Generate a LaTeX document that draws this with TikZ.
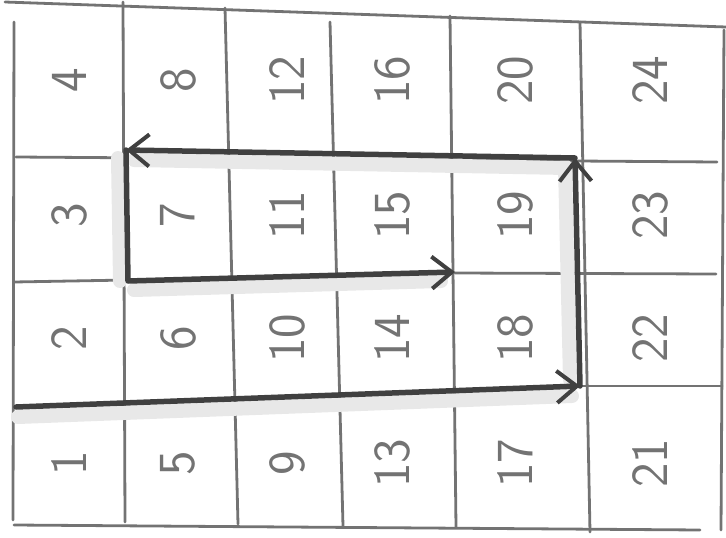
\documentclass[tikz,border=0pt]{standalone}
\usepackage{tikz}
\usetikzlibrary{positioning, arrows.meta, calc}

\begin{document}
\begin{tikzpicture}[x=1pt, y=-1pt,
  gridline/.style={draw=black!55, line width=2.8pt, line cap=round},
  route/.style={draw=black!75, line width=5.5pt, line cap=round, line join=round},
  smudge/.style={draw=black!9, line width=14pt, line cap=round},
  tip/.style={-{Straight Barb[length=20pt, width=32pt, line width=4pt]}},
  cellnum/.style={text=black!55, rotate=90, font=\sffamily\fontsize{52}{52}\selectfont}]
\useasboundingbox (0,0) rectangle (726,538);

% grid
\draw[gridline] (5,2) -- (726,27);
\draw[gridline] (16,157) -- (717,162);
\draw[gridline] (14,282) -- (128,280);
\draw[gridline] (455,273) -- (716,274);
\draw[gridline] (580,386) -- (722,386);
\draw[gridline] (14,525) -- (700,530);
\draw[gridline] (14,22) -- (13,520);
\draw[gridline] (123,2) -- (125,522);
\draw[gridline] (225,8) -- (238,524);
\draw[gridline] (330,22) -- (343,526);
\draw[gridline] (450,16) -- (456,527);
\draw[gridline] (580,22) -- (590,532);
\draw[gridline] (724,30) -- (721,530);

% numbers, counted up each column
\foreach \c/\x in {1/69, 2/178, 3/287, 4/392, 5/515, 6/650}
  \foreach \r/\y in {1/463, 2/338, 3/215, 4/80} {
    \pgfmathtruncatemacro{\n}{4*(\c-1)+\r}
    \node[cellnum] (cell\n) at (\x,\y) {\n};
  }

% route corners
\coordinate (start) at (16,407);
\coordinate (botright) at (580,386);
\coordinate (topright) at (575,158);
\coordinate (topleft) at (126,150);
\coordinate (midleft) at (128,281);
\coordinate (midright) at (455,272);

% pencil smudge
\draw[smudge] ($(start)+(2,10)$) -- ($(botright)+(-8,10)$);
\draw[smudge] ($(botright)+(-10,-6)$) -- ($(topright)+(-10,8)$);
\draw[smudge] ($(topright)+(-8,10)$) -- ($(topleft)+(8,10)$);
\draw[smudge] ($(topleft)+(-8,8)$) -- ($(midleft)+(-8,0)$);
\draw[smudge] ($(midleft)+(6,9)$) -- ($(midright)+(-14,9)$);

% route
\draw[route, tip] (start) -- (botright);
\draw[route, tip] (botright) -- (topright);
\draw[route, tip] (topright) -- (topleft);
\draw[route, tip] (topleft) -- (midleft) -- (midright);
\end{tikzpicture}
\end{document}
